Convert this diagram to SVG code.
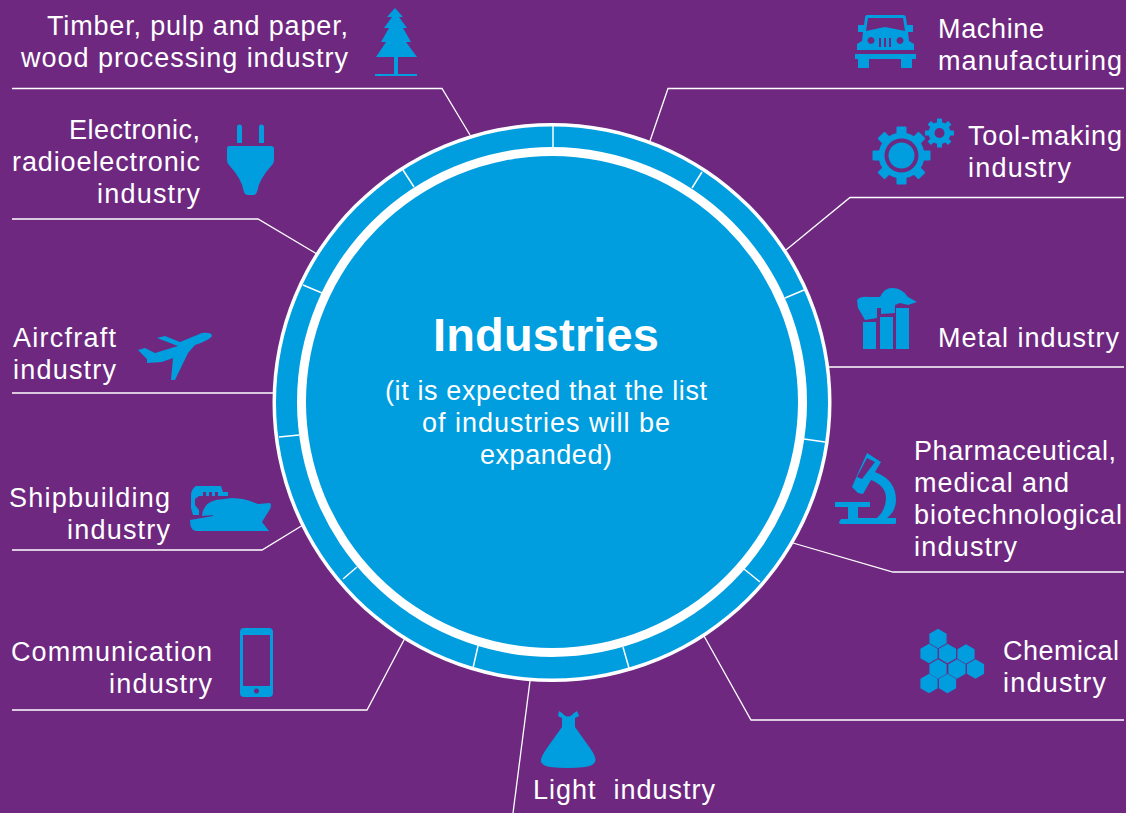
<svg xmlns="http://www.w3.org/2000/svg" xmlns:xlink="http://www.w3.org/1999/xlink" width="1126" height="813" viewBox="0 0 1126 813">
<style>
.t{font-family:"Liberation Sans",Arial,sans-serif;font-size:27px;fill:#fff}
.e{text-anchor:end}
.m{text-anchor:middle}
.i{fill:#009ddf}
.l{fill:none;stroke:#fff;stroke-width:1.3}
.tick{stroke:#fff;stroke-width:1.5}
</style>
<defs>
<polygon id="hex" points="0,-9.700 8.600,-4.800 8.600,4.800 0,9.700 -8.600,4.800 -8.600,-4.800"/>
<rect id="tb" x="-5" y="-29" width="10" height="58" rx="1"/>
<rect id="ts" x="-2.500" y="-14.500" width="5" height="29" rx="0.500"/>
</defs>
<rect width="1126" height="813" fill="#6e2880"/>
<g id="connectors">
<polyline class="l" points="12,88.500 442,88.500 470,135"/>
<polyline class="l" points="1124,88.500 668,88.500 650,141"/>
<polyline class="l" points="12,219 258,219 317,254"/>
<polyline class="l" points="1124,197.500 850,197.500 786,250"/>
<polyline class="l" points="12,393 275,393"/>
<polyline class="l" points="1124,367 829,367"/>
<polyline class="l" points="12,550 262,550 303,525"/>
<polyline class="l" points="1124,572 893,572 793,543"/>
<polyline class="l" points="12,710 367,710 405,638"/>
<polyline class="l" points="1124,720 751,720 704,636"/>
<polyline class="l" points="530,681 513,813"/>
</g>
<g id="hub">
<circle cx="552" cy="402.500" r="279.500" fill="#fff"/>
<circle cx="552" cy="402.500" r="276" class="i"/>
<circle cx="552" cy="402" r="255" fill="#fff"/>
<circle cx="552" cy="402" r="246" class="i"/>
<g class="tick">
<line x1="553" y1="126" x2="553" y2="148"/>
<line x1="702" y1="172" x2="692" y2="188"/>
<line x1="804" y1="290" x2="785" y2="298"/>
<line x1="825" y1="442" x2="804" y2="439"/>
<line x1="760" y1="582" x2="744" y2="569"/>
<line x1="623" y1="647" x2="629" y2="668"/>
<line x1="478" y1="646" x2="473" y2="668"/>
<line x1="357" y1="567" x2="343" y2="579"/>
<line x1="299" y1="435" x2="279" y2="437"/>
<line x1="322" y1="293" x2="303" y2="285"/>
<line x1="414" y1="187" x2="403" y2="170"/>
</g>
<text class="t m" x="546" y="351" style="font-size:47px;font-weight:bold" textLength="226" lengthAdjust="spacing">Industries</text>
<text class="t m" x="546" y="400" textLength="322" lengthAdjust="spacing">(it is expected that the list</text>
<text class="t m" x="546" y="432" textLength="248" lengthAdjust="spacing">of industries will be</text>
<text class="t m" x="546" y="464" textLength="132" lengthAdjust="spacing">expanded)</text>
</g>
<g id="timber">
<text class="t e" x="348" y="35" textLength="301" lengthAdjust="spacing">Timber, pulp and paper,</text>
<text class="t e" x="348" y="67" textLength="327" lengthAdjust="spacing">wood processing industry</text>
<path class="i" d="M395,8 L403,17 H399 L407,28 H403 L411,42 H406 L417,57 H398 V74 H417 V76 H375 V74 H394 V57 H376 L386,42 H381 L389,28 H384 L392,17 H387 Z"/>
</g>
<g id="electronic">
<text class="t e" x="200" y="139" textLength="131" lengthAdjust="spacing">Electronic,</text>
<text class="t e" x="200" y="171" textLength="188" lengthAdjust="spacing">radioelectronic</text>
<text class="t e" x="200" y="203" textLength="103" lengthAdjust="spacing">industry</text>
<path class="i" d="M237,127 a2.500,2.500 0 0 1 5,0 V143 H237 Z M259,127 a2.500,2.500 0 0 1 5,0 V143 H259 Z M229,146 H271 Q274,146 274,149 V160 Q274,163 272,165 Q259,179 257,192 Q256,195 253,195 H248 Q245,195 244,192 Q242,179 229,165 Q227,163 227,160 V149 Q227,146 229,146 Z"/>
</g>
<g id="aircraft">
<text class="t e" x="116" y="347" textLength="103" lengthAdjust="spacing">Aircfraft</text>
<text class="t e" x="116" y="379" textLength="103" lengthAdjust="spacing">industry</text>
<path class="i" d="M138,350 L145,348 L155,353 L178,346 L157,338 L165,336 L180,342 L202,333 Q212,332 212,336 Q210,340 195,345 L188,353 L175,380 L171,380 L173,358 L162,362 L147,363 L147,359 Z"/>
</g>
<g id="shipbuilding">
<text class="t e" x="170" y="507" textLength="161" lengthAdjust="spacing">Shipbuilding</text>
<text class="t e" x="170" y="539" textLength="103" lengthAdjust="spacing">industry</text>
<path class="i" fill-rule="evenodd" d="M196,486 H221 L223,492 H228 V496 H199 L195,499 V505 L199,510 V515 H193 L191,508 V496 Q191,489 196,486 Z M203,492 V496 H206 V492 Z M209,492 V496 H212 V492 Z M215,492 V496 H218 V492 Z"/>
<path class="i" d="M202,516 Q203,503 216,500 L232,498 L243,499 L250,501 L258,504 L270,503 Q272,505 270,509 L262,522 L269,531 H196 Q190,531 190,520 L213,516 Q213,510 218,509 Q224,507 226,514 Z"/>
</g>
<g id="communication">
<text class="t e" x="212" y="661" textLength="201" lengthAdjust="spacing">Communication</text>
<text class="t e" x="212" y="693" textLength="103" lengthAdjust="spacing">industry</text>
<path class="i" fill-rule="evenodd" d="M244,628 H269 Q273,628 273,632 V693 Q273,697 269,697 H244 Q240,697 240,693 V632 Q240,628 244,628 Z M243,635 V686 H270 V635 Z M256.500,688.500 a2.500,2.500 0 1 0 0.010,0 Z"/>
</g>
<g id="light">
<text class="t" x="533" y="799" textLength="182" lengthAdjust="spacing" xml:space="preserve">Light  industry</text>
<path class="i" d="M559,711 L562,713 L564,715 Q568,718 572,715 L574,713 L577,711 L579,716 L575,718 L575,727 L590,748 Q597,758 595,762 Q593,766 585,767 Q568,769 550,767 Q543,766 541,762 Q540,758 547,748 L562,727 L562,718 L558,716 Z"/>
</g>
<g id="chemical">
<text class="t" x="1003" y="660" textLength="116" lengthAdjust="spacing">Chemical</text>
<text class="t" x="1003" y="692" textLength="103" lengthAdjust="spacing">industry</text>
<g class="i">
<use xlink:href="#hex" x="938" y="638.500"/>
<use xlink:href="#hex" x="929" y="653.500"/>
<use xlink:href="#hex" x="947.500" y="653.500"/>
<use xlink:href="#hex" x="966" y="654"/>
<use xlink:href="#hex" x="938" y="669"/>
<use xlink:href="#hex" x="957" y="669"/>
<use xlink:href="#hex" x="975.500" y="669"/>
<use xlink:href="#hex" x="929" y="683.500"/>
<use xlink:href="#hex" x="947.500" y="683.500"/>
</g>
</g>
<g id="pharma">
<text class="t" x="914" y="460" textLength="202" lengthAdjust="spacing">Pharmaceutical,</text>
<text class="t" x="914" y="492" textLength="155" lengthAdjust="spacing">medical and</text>
<text class="t" x="914" y="524" textLength="208" lengthAdjust="spacing">biotechnological</text>
<text class="t" x="914" y="556" textLength="103" lengthAdjust="spacing">industry</text>
<path class="i" fill-rule="evenodd" d="M867,453 L881,462 L875,472 Q896,480 896,500 Q896,511 887,518 H896 V523 Q896,524 894,524 H841 Q839,524 839,522 L841,519 H848 V507 H835 V502 H870 V507 H858 V518 H877 Q886,510 886,498 Q886,486 871,480 L863,494 L858,493 L852,487 L855,480 Z M867,458 L857,477 L862,479 L875,462 Z"/>
</g>
<g id="metal">
<text class="t" x="938" y="347" textLength="181" lengthAdjust="spacing">Metal industry</text>
<path class="i" d="M863,322 H876 V349 H863 Z M880,317 H893 V349 H880 Z M896,308 H909 V349 H896 Z"/>
<path class="i" d="M857,300 Q860,296 870,297 H880 Q884,288 892,288 Q902,288 908,297 L917,302 L908,305 L900,303 L895,305 V313 L881,314 V308 L877,308 V318 L865,320 L858,308 Z"/>
</g>
<g id="tool">
<text class="t" x="968" y="145" textLength="154" lengthAdjust="spacing">Tool-making</text>
<text class="t" x="968" y="177" textLength="103" lengthAdjust="spacing">industry</text>
<g class="i">
<circle cx="901.500" cy="155.500" r="23"/>
<use xlink:href="#tb" transform="translate(901.500 155.500)"/>
<use xlink:href="#tb" transform="translate(901.500 155.500) rotate(45)"/>
<use xlink:href="#tb" transform="translate(901.500 155.500) rotate(90)"/>
<use xlink:href="#tb" transform="translate(901.500 155.500) rotate(135)"/>
</g>
<circle cx="901.500" cy="155.500" r="17" fill="#6e2880"/>
<circle cx="901.500" cy="155.500" r="13" class="i"/>
<g class="i">
<circle cx="939.500" cy="133" r="11"/>
<use xlink:href="#ts" transform="translate(939.500 133)"/>
<use xlink:href="#ts" transform="translate(939.500 133) rotate(45)"/>
<use xlink:href="#ts" transform="translate(939.500 133) rotate(90)"/>
<use xlink:href="#ts" transform="translate(939.500 133) rotate(135)"/>
</g>
<circle cx="939.500" cy="133" r="5" fill="#6e2880"/>
</g>
<g id="machine">
<text class="t" x="938" y="38" textLength="106" lengthAdjust="spacing">Machine</text>
<text class="t" x="938" y="70" textLength="184" lengthAdjust="spacing">manufacturing</text>
<path class="i" fill-rule="evenodd" d="M867,15 H903 Q906,15 906,18 L907,25 H913 V32 H908 L909,41 L914,44 V50 H857 V44 L862,41 L863,32 H858 V25 H864 L865,18 Q865,15 867,15 Z M868,18 L866,31 L885,27 L905,31 L903,18 Z M871,37 a3.500,3.500 0 1 0 0.010,0 Z M900,37 a3.500,3.500 0 1 0 0.010,0 Z M879,38 V47 H881 V38 Z M884,38 V47 H886 V38 Z M889,38 V47 H891 V38 Z"/>
<path class="i" d="M855,54 H916 V59 H912 V68 H901 V59 H869 V68 H858 V59 H855 Z"/>
</g>
</svg>
